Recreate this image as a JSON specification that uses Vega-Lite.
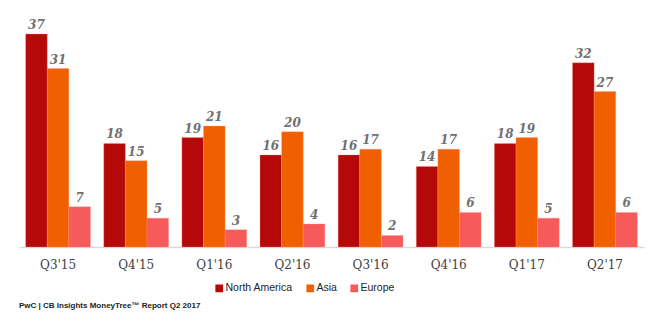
{
  "$schema": "https://vega.github.io/schema/vega-lite/v6.json",
  "width": 625,
  "height": 213,
  "autosize": {"type": "none"},
  "padding": {"left": 19, "top": 34, "right": 6, "bottom": 77},
  "background": "white",
  "title": {
    "text": "PwC | CB Insights MoneyTree™ Report Q2 2017",
    "orient": "bottom",
    "anchor": "start",
    "frame": "group",
    "font": "Liberation Sans",
    "fontSize": 8,
    "fontWeight": "bold",
    "color": "#222222",
    "offset": 8
  },
  "config": {"view": {"stroke": null}},
  "data": {
    "values": [
      {"quarter": "Q3'15", "region": "North America", "value": 37},
      {"quarter": "Q3'15", "region": "Asia", "value": 31},
      {"quarter": "Q3'15", "region": "Europe", "value": 7},
      {"quarter": "Q4'15", "region": "North America", "value": 18},
      {"quarter": "Q4'15", "region": "Asia", "value": 15},
      {"quarter": "Q4'15", "region": "Europe", "value": 5},
      {"quarter": "Q1'16", "region": "North America", "value": 19},
      {"quarter": "Q1'16", "region": "Asia", "value": 21},
      {"quarter": "Q1'16", "region": "Europe", "value": 3},
      {"quarter": "Q2'16", "region": "North America", "value": 16},
      {"quarter": "Q2'16", "region": "Asia", "value": 20},
      {"quarter": "Q2'16", "region": "Europe", "value": 4},
      {"quarter": "Q3'16", "region": "North America", "value": 16},
      {"quarter": "Q3'16", "region": "Asia", "value": 17},
      {"quarter": "Q3'16", "region": "Europe", "value": 2},
      {"quarter": "Q4'16", "region": "North America", "value": 14},
      {"quarter": "Q4'16", "region": "Asia", "value": 17},
      {"quarter": "Q4'16", "region": "Europe", "value": 6},
      {"quarter": "Q1'17", "region": "North America", "value": 18},
      {"quarter": "Q1'17", "region": "Asia", "value": 19},
      {"quarter": "Q1'17", "region": "Europe", "value": 5},
      {"quarter": "Q2'17", "region": "North America", "value": 32},
      {"quarter": "Q2'17", "region": "Asia", "value": 27},
      {"quarter": "Q2'17", "region": "Europe", "value": 6}
    ]
  },
  "encoding": {
    "x": {
      "field": "quarter",
      "type": "nominal",
      "sort": null,
      "scale": {"paddingInner": 0.17, "paddingOuter": 0.085},
      "axis": {
        "title": null,
        "labelAngle": 0,
        "ticks": false,
        "domainColor": "#d9d9d9",
        "domainWidth": 1.5,
        "labelFont": "DejaVu Serif",
        "labelFontSize": 12,
        "labelColor": "#404040",
        "labelPadding": 12
      }
    },
    "xOffset": {"field": "region", "type": "nominal", "sort": ["North America", "Asia", "Europe"]},
    "y": {
      "field": "value",
      "type": "quantitative",
      "scale": {"domain": [0, 37], "nice": false},
      "axis": null
    }
  },
  "layer": [
    {
      "mark": {"type": "bar", "stroke": "#ff9a8a", "strokeWidth": 0.5, "strokeOpacity": 0.6},
      "encoding": {
        "color": {
          "field": "region",
          "type": "nominal",
          "sort": ["North America", "Asia", "Europe"],
          "scale": {"domain": ["North America", "Asia", "Europe"], "range": ["#b50808", "#f06000", "#f65a5a"]},
          "legend": {
            "title": null,
            "orient": "none",
            "direction": "horizontal",
            "legendX": 195,
            "legendY": 249,
            "padding": 0,
            "symbolType": "square",
            "symbolSize": 60,
            "symbolOpacity": 1,
            "symbolStrokeWidth": 0,
            "labelFont": "Liberation Sans",
            "labelFontSize": 10.5,
            "labelColor": "#222222",
            "labelOffset": 1,
            "columnPadding": 12
          }
        }
      }
    },
    {
      "mark": {
        "type": "text",
        "dy": -9,
        "font": "DejaVu Serif",
        "fontStyle": "italic",
        "fontWeight": "bold",
        "fontSize": 12,
        "color": "#707070"
      },
      "encoding": {"text": {"field": "value", "type": "quantitative"}}
    }
  ]
}
